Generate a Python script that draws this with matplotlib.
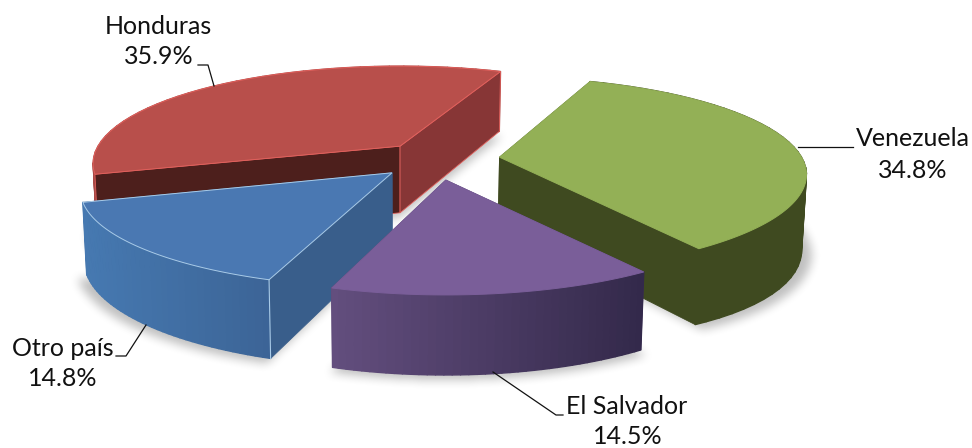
import numpy as np
import matplotlib
matplotlib.use("Agg")
import matplotlib.pyplot as plt
from matplotlib.collections import PolyCollection
from matplotlib.colors import to_rgb
from matplotlib.patches import Polygon
from matplotlib.path import Path

# Data
categories = ["Venezuela", "El Salvador", "Otro país", "Honduras"]
shares = [34.8, 14.5, 14.8, 35.9]

# Slice styles, same order as categories
explode = [0.208, 0.185, 0.185, 0.21]
turn = [-1.5, -1.2, 0.0, 0.8]
stretch = [1.0, 1.0, 1.015, 1.0]
top_colors = ["#93B056", "#7A5E99", "#4A78B2", "#B84F4B"]
rim_left = ["#3F4A20", "#634E7E", "#4679B1", "#A84845"]
rim_right = ["#3F4A20", "#33294A", "#3C6496", "#A84845"]
wall_colors = ["#3F4A20", "#4A3A63", "#395E8B", "#873636"]
edge_colors = [None, None, "#A9CBE8", "#E0605C"]

# Projection of the pie, fitted by eye (pixels)
CX, CY = 438, 159
RX, RY, PERSP = 302, 94.3, 0.179
START = 22.0


def project(theta):
    s, c = np.sin(np.radians(theta)), np.cos(np.radians(theta))
    den = 1 + PERSP * c
    return RX * s / den, -RY * c / den


def lower(x, y):
    # same point on the underside of the slice
    depth = 53.5 + 0.09 * y + np.clip(x - 700, 0, None) * 0.06
    return x + (400 - x) * 0.012, y + depth


W, H = 972, 448
fig = plt.figure(figsize=(W / 100, H / 100), dpi=100)
ax = fig.add_axes([0, 0, 1, 1])

# Work out every slice from the shares
edges = START + np.cumsum([0] + shares) * 3.6
slices = []
for i in range(len(shares)):
    t0, t1 = edges[i], edges[i + 1]
    ex, ey = project((t0 + t1) / 2)
    ax0, ay0 = CX + explode[i] * ex, CY + explode[i] * ey
    rx, ry = project(np.linspace(t0, t1, 160) + turn[i])
    rx, ry = ax0 + rx * stretch[i], ay0 + ry
    slices.append((ax0, ay0, rx, ry))

# Soft shadow under the pie
yy, xx = np.mgrid[0:H, 0:W]
grid = np.column_stack([xx.ravel() + 0.5, yy.ravel() + 0.5])
mask = np.zeros(H * W)
for ax0, ay0, rx, ry in slices:
    bx, by = lower(rx, ry)
    ox, oy = lower(ax0, ay0)
    px = np.r_[ox, bx]
    py = np.r_[oy, by]
    px = CX + (px - CX) * 1.025
    py = py + 5
    mask = np.maximum(mask, Path(np.column_stack([px, py])).contains_points(grid))
shadow = mask.reshape(H, W)
kernel = np.ones(11) / 11
for _ in range(2):
    shadow = np.apply_along_axis(lambda r: np.convolve(r, kernel, mode="same"), 0, shadow)
    shadow = np.apply_along_axis(lambda r: np.convolve(r, kernel, mode="same"), 1, shadow)
rgba = np.zeros((H, W, 4))
rgba[..., 3] = shadow * 0.25
ax.imshow(rgba, extent=[0, W, H, 0], aspect="auto", zorder=1)


def side(points, color, z, edge=None):
    ax.add_patch(Polygon(points, closed=True, facecolor=color, edgecolor=edge or color,
                         linewidth=0.6, zorder=z))


# Back to front: Honduras, Venezuela, Otro país, El Salvador
for z, i in zip([10, 20, 30, 40], [3, 0, 2, 1]):
    ax0, ay0, rx, ry = slices[i]
    bx, by = lower(rx, ry)
    ox, oy = lower(ax0, ay0)

    # flat sides from the apex out to each end of the rim
    end_a = [(ax0, ay0), (rx[0], ry[0]), (bx[0], by[0]), (ox, oy)]
    end_b = [(ax0, ay0), (rx[-1], ry[-1]), (bx[-1], by[-1]), (ox, oy)]
    if i == 3:
        side(end_a, "#4D1F1C", z + 3, edge_colors[i])
        side(end_b, wall_colors[i], z + 3, edge_colors[i])
    elif i == 2:
        side(end_b, wall_colors[i], z)
        side(end_a, wall_colors[i], z + 3)
    else:
        side(end_a, wall_colors[i], z)
        side(end_b, wall_colors[i], z + 3 if i == 0 else z)

    # curved rim, small quads shaded left to right
    c0, c1 = np.array(to_rgb(rim_left[i])), np.array(to_rgb(rim_right[i]))
    x_lo, x_hi = rx.min(), rx.max()
    quads, shades = [], []
    step = 4
    for k in range(0, len(rx) - 1, step):
        m = min(k + step, len(rx) - 1)
        quads.append([(rx[k], ry[k]), (rx[m], ry[m]), (bx[m], by[m]), (bx[k], by[k])])
        f = ((rx[k] + rx[m]) / 2 - x_lo) / (x_hi - x_lo)
        shades.append(c0 + (c1 - c0) * f)
    ax.add_collection(PolyCollection(quads, facecolors=shades, edgecolors=shades,
                                     linewidths=1.0, zorder=z + 2))

    # top face
    top = np.column_stack([np.r_[ax0, rx], np.r_[ay0, ry]])
    ax.add_patch(Polygon(top, closed=True, facecolor=top_colors[i],
                         edgecolor=edge_colors[i] or top_colors[i], linewidth=0.7, zorder=z + 4))
    if i == 2:
        ax.plot([rx[0], bx[0]], [ry[0], by[0]], color=edge_colors[i], lw=0.8, zorder=z + 5)

# Labels with leader lines
label_font = dict(family=["Lato", "DejaVu Sans"], fontsize=18, color="#111111",
                  ha="center", va="center", zorder=60)
name_pos = [(913, 139), (627, 407), (63, 348), (158, 26)]
value_pos = [(913, 170), (628, 437), (63, 378), (159, 57)]
for name, val, p, q in zip(categories, shares, name_pos, value_pos):
    ax.text(p[0], p[1], name, **label_font)
    ax.text(q[0], q[1], f"{val:.1f}%", **label_font)

leaders = [
    ([853, 798], [147, 147]),
    ([563, 556, 493], [415, 415, 372]),
    ([116, 126, 146], [356, 356, 325]),
    ([198, 208, 214], [65, 65, 86]),
]
for lx, ly in leaders:
    ax.plot(lx, ly, color="#111111", lw=0.9, zorder=55)

ax.set_xlim(0, W)
ax.set_ylim(H, 0)
ax.axis("off")
fig.savefig("out.png", dpi=100, facecolor="white")
